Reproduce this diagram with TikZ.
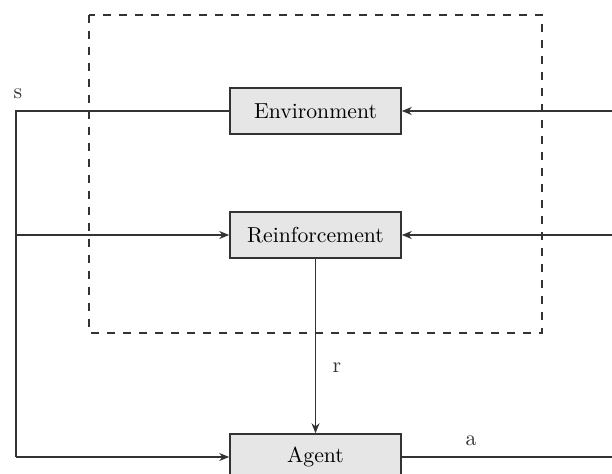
\documentclass[tikz,border=0pt]{standalone}
\usetikzlibrary{arrows.meta}
\definecolor{linegray}{HTML}{333333}
\definecolor{boxgray}{HTML}{E6E6E7}
\tikzset{
  block/.style={draw=linegray, fill=boxgray, line width=0.8pt, minimum width=85.5bp, minimum height=23bp, inner sep=0pt, font=\fontsize{10.9}{12}\selectfont},
  wire/.style={draw=linegray, line width=0.8pt},
  tip/.style={-{Stealth[length=5pt,width=4pt]}},
  lbl/.style={font=\fontsize{10.9}{12}\selectfont, text=linegray}
}
\begin{document}
\begin{tikzpicture}[x=0.5bp,y=-0.5bp]
  \useasboundingbox (0,0) rectangle (612,474);
  \draw[linegray, line width=0.8pt, dash pattern=on 4bp off 4bp] (89,15) rectangle (542,333);
  \draw
    (315.5,111) node[block] (env){Environment}
    (315.5,235) node[block] (rein){Reinforcement}
    (315.5,457) node[block] (agent){Agent};
  \coordinate (sTop) at (16,111);
  \coordinate (sMid) at (16,235);
  \coordinate (sBot) at (16,457);
  \coordinate (inEnv) at (612,111);
  \coordinate (inRein) at (612,235);
  \coordinate (outA) at (612,457);
  \begin{scope}[wire]
    \draw (env.west) -- (sTop) -- (sBot);
    \draw[tip] (sBot) -- (agent.west);
    \draw[tip] (sMid) -- (rein.west);
    \draw[tip] (inEnv) -- (env.east);
    \draw[tip] (inRein) -- (rein.east);
    \draw (agent.east) -- (outA);
    \draw[tip, line width=0.5pt] (rein.south) -- (agent.north);
  \end{scope}
  \node[lbl] (s) at (18,94) {s};
  \node[lbl] (r) at (337,368) {r};
  \node[lbl] (a) at (471,441) {a};
\end{tikzpicture}
\end{document}
